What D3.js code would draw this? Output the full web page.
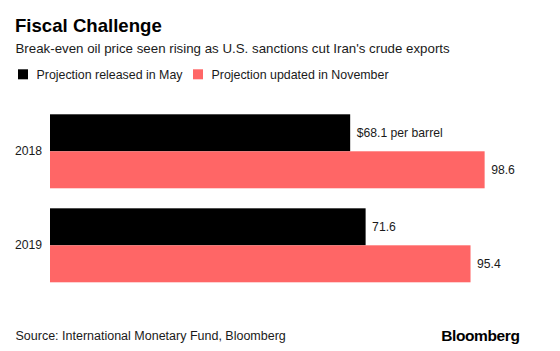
<!DOCTYPE html>
<html>
<head>
<meta charset="utf-8">
<script src="https://cdn.jsdelivr.net/npm/d3@7"></script>
<style>
    html, body { margin: 0; padding: 0; background: #ffffff; }
    svg { display: block; font-family: "Liberation Sans", Arial, Helvetica, sans-serif; }
</style>
</head>
<body>
<svg id="chart" width="560" height="351"></svg>
<script>
// Chart data
const years = ["2018", "2019"];
const seriesNames = ["Projection released in May", "Projection updated in November"];
const mayValues = [68.1, 71.6];
const novemberValues = [98.6, 95.4];
const seriesColors = ["#000000", "#ff6666"];

const svg = d3.select("#chart");

svg.append("rect")
    .attr("width", 560)
    .attr("height", 351)
    .attr("fill", "#ffffff");

// Title + subtitle
svg.append("text")
    .attr("x", 15)
    .attr("y", 32.3)
    .style("font-size", "18.6px")
    .style("font-weight", "700")
    .style("fill", "#000000")
    .text("Fiscal Challenge");

svg.append("text")
    .attr("x", 15.5)
    .attr("y", 53.3)
    .style("font-size", "13.3px")
    .style("fill", "#1a1a1a")
    .text("Break-even oil price seen rising as U.S. sanctions cut Iran's crude exports");

// Legend
const legendX = [18, 193];
seriesNames.forEach((name, i) => {
    svg.append("rect")
        .attr("x", legendX[i])
        .attr("y", 69.3)
        .attr("width", 10)
        .attr("height", 10)
        .attr("fill", seriesColors[i]);
    svg.append("text")
        .attr("x", legendX[i] + 18.5)
        .attr("y", 78.6)
        .style("font-size", "12.4px")
        .style("fill", "#1a1a1a")
        .text(name);
});

// Scales
const xScale = d3.scaleLinear()
    .domain([0, 100])
    .range([50, 490.8]);

const yScale = d3.scaleBand()
    .domain(years)
    .range([114.3, 282.3])
    .paddingInner(0.213)
    .paddingOuter(0);

const subScale = d3.scaleBand()
    .domain([0, 1])
    .range([0, yScale.bandwidth()]);

const rows = years.map((year, i) => ({
    year: year,
    values: [mayValues[i], novemberValues[i]]
}));

const groups = svg.selectAll(".group")
    .data(rows)
    .enter()
    .append("g")
    .attr("class", "group")
    .attr("transform", d => `translate(0,${yScale(d.year)})`);

groups.selectAll("rect")
    .data(d => d.values.map((v, s) => ({ value: v, series: s })))
    .enter()
    .append("rect")
    .attr("x", xScale(0))
    .attr("y", d => subScale(d.series))
    .attr("width", d => xScale(d.value) - xScale(0))
    .attr("height", subScale.bandwidth())
    .attr("fill", d => seriesColors[d.series]);

// Value labels - first one gets the unit
groups.selectAll(".value-label")
    .data((d, gi) => d.values.map((v, s) => ({ value: v, series: s, first: gi === 0 && s === 0 })))
    .enter()
    .append("text")
    .attr("class", "value-label")
    .attr("x", d => xScale(d.value) + 6.5)
    .attr("y", d => subScale(d.series) + subScale.bandwidth() / 2)
    .attr("dy", "0.35em")
    .style("font-size", "12.2px")
    .style("fill", "#1a1a1a")
    .text(d => d.first ? `$${d.value.toFixed(1)} per barrel` : d.value.toFixed(1));

// Year labels
svg.append("g")
    .attr("transform", `translate(${xScale(0) - 8},0)`)
    .call(d3.axisLeft(yScale).tickSize(0).tickPadding(0))
    .call(g => g.select(".domain").remove())
    .call(g => g.selectAll("text")
        .style("font-family", "\"Liberation Sans\", Arial, Helvetica, sans-serif")
        .style("font-size", "12.2px")
        .style("fill", "#1a1a1a"));

// Footer
svg.append("text")
    .attr("x", 15.5)
    .attr("y", 340)
    .style("font-size", "12.5px")
    .style("fill", "#1a1a1a")
    .text("Source: International Monetary Fund, Bloomberg");

svg.append("text")
    .attr("x", 519.5)
    .attr("y", 340.7)
    .attr("text-anchor", "end")
    .style("font-size", "15.5px")
    .style("font-weight", "700")
    .style("fill", "#000000")
    .style("letter-spacing", "-0.4px")
    .text("Bloomberg");
</script>
</body>
</html>
